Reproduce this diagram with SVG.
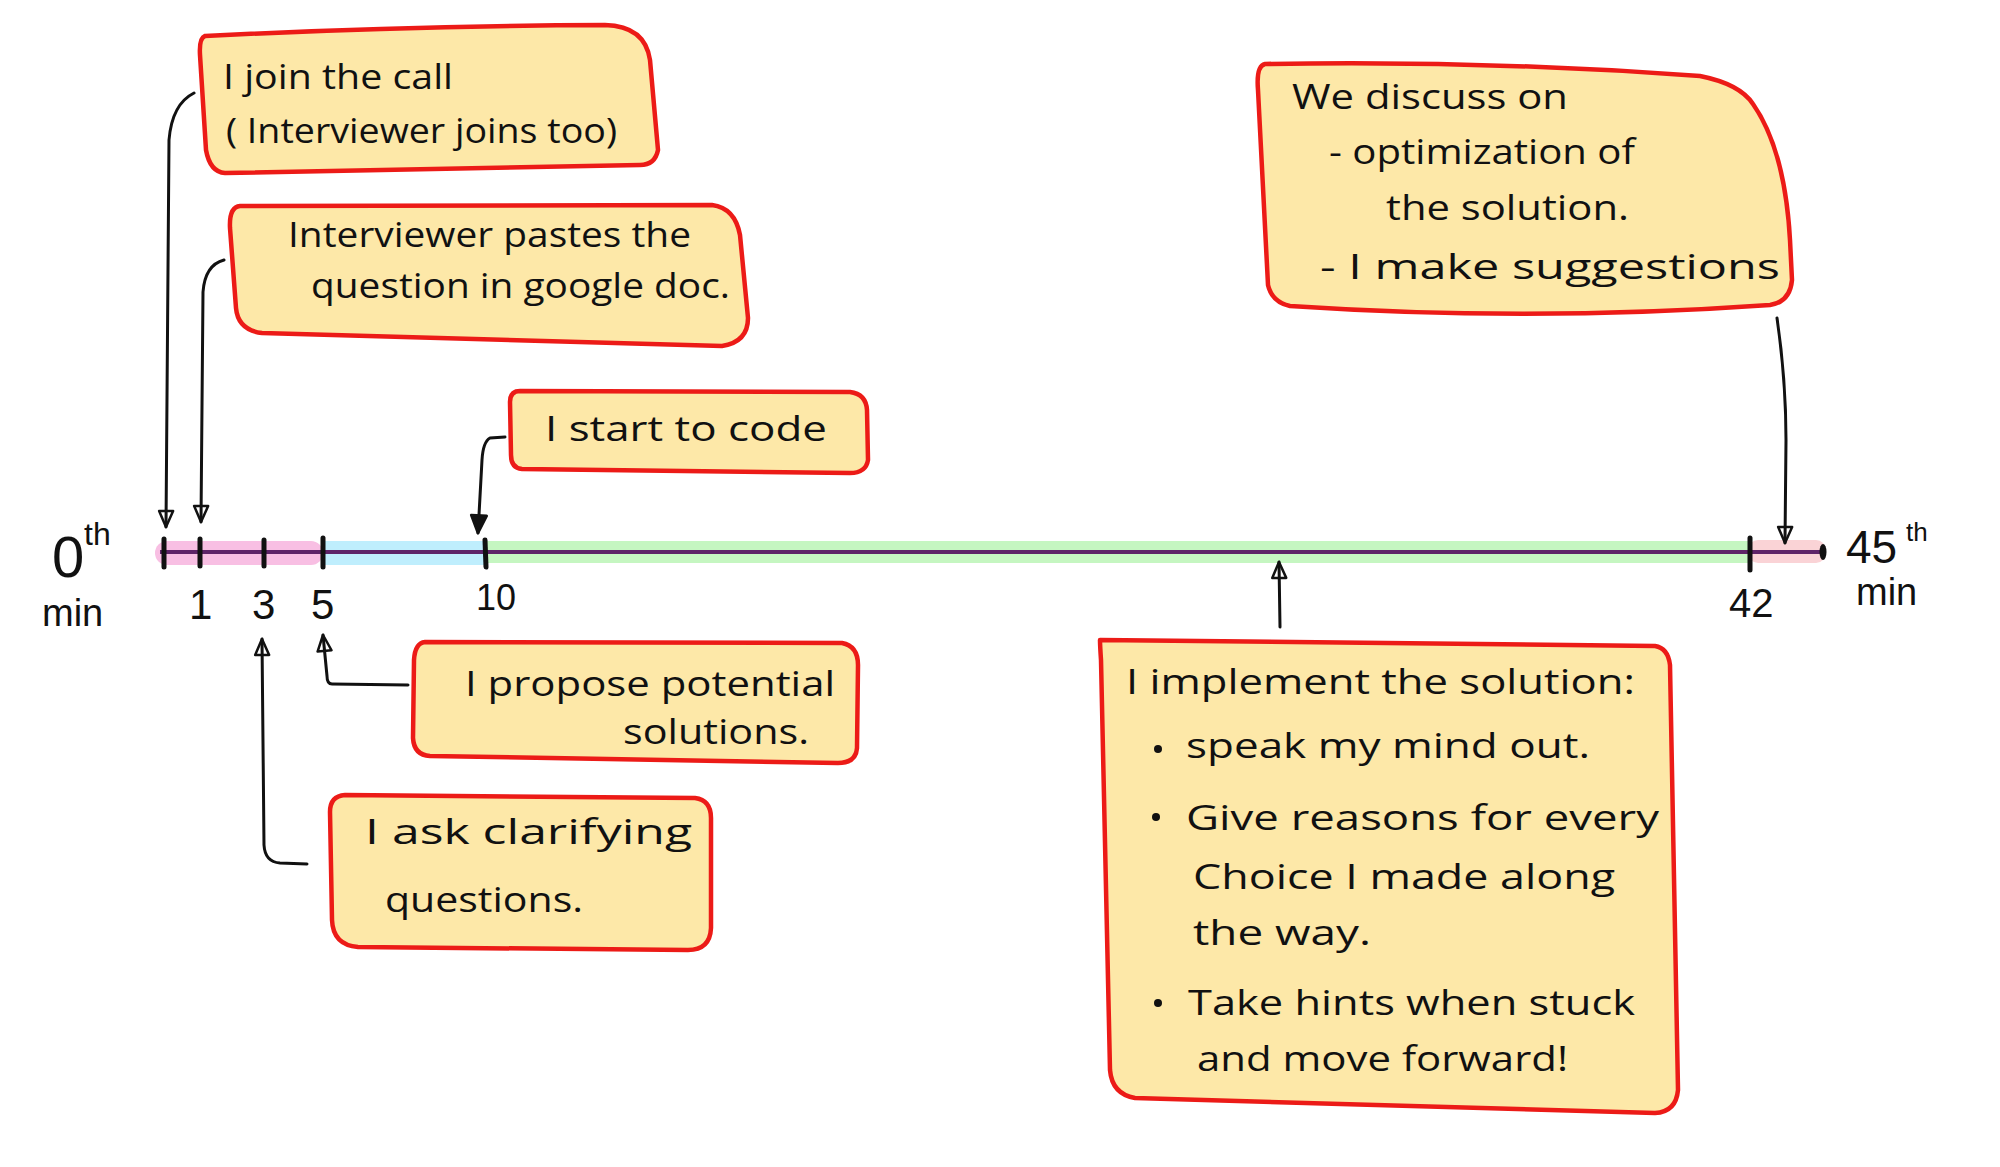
<svg xmlns="http://www.w3.org/2000/svg" width="2000" height="1167" viewBox="0 0 2000 1167">
<defs>
<style>
.box{fill:#FDE8A8;stroke:#EC1B17;stroke-width:4.5;stroke-linejoin:round}
.t{font-family:"Open Sans","Liberation Sans",sans-serif;font-size:34px;font-weight:500;fill:#111}
.n{font-family:"Liberation Sans","Open Sans",sans-serif;fill:#111}
.c{fill:none;stroke:#111;stroke-width:3;stroke-linecap:round;stroke-linejoin:round}
.tick{stroke:#111;stroke-width:5;stroke-linecap:round}
</style>
<marker id="open" viewBox="0 0 20 20" refX="18" refY="10" markerWidth="20" markerHeight="20" markerUnits="userSpaceOnUse" orient="auto">
<path d="M2,3 L18,10 L2,17 Z" fill="none" stroke="#111" stroke-width="2.5" stroke-linejoin="round"/>
</marker>
<marker id="solid" viewBox="0 0 20 20" refX="18" refY="10" markerWidth="22" markerHeight="22" markerUnits="userSpaceOnUse" orient="auto">
<path d="M2,3 L18,10 L2,17 Z" fill="#111" stroke="#111" stroke-width="2.5" stroke-linejoin="round"/>
</marker>
</defs>
<rect width="2000" height="1167" fill="#fff"/>

<g id="timeline">
<rect x="155" y="541" width="168" height="24" rx="12" fill="#F8BFE3"/>
<rect x="321" y="541" width="166" height="24" fill="#BFEEFD"/>
<rect x="485" y="541" width="1265" height="22" fill="#C5F6C1"/>
<rect x="1748" y="540" width="78" height="23" rx="10" fill="#FAD3D6"/>
<line x1="160" y1="552" x2="1823" y2="552" stroke="#5E2468" stroke-width="4"/>
<line class="tick" x1="164" y1="539" x2="164" y2="567"/>
<line class="tick" x1="200" y1="539" x2="200" y2="566"/>
<line class="tick" x1="264" y1="540" x2="264" y2="566"/>
<line class="tick" x1="323" y1="538" x2="323" y2="567"/>
<line class="tick" x1="485" y1="540" x2="486" y2="567"/>
<line class="tick" x1="1750" y1="538" x2="1750" y2="570"/>
<ellipse cx="1823" cy="552" rx="3.5" ry="8" fill="#111"/>
<text class="n" x="52" y="577" style="font-size:58px">0</text>
<text class="n" x="84" y="545" style="font-size:32px">th</text>
<text class="n" x="42" y="626" style="font-size:38px">min</text>
<text class="n" x="189" y="619" style="font-size:42px">1</text>
<text class="n" x="252" y="619" style="font-size:42px">3</text>
<text class="n" x="311" y="619" style="font-size:42px">5</text>
<text class="n" x="476" y="610" style="font-size:36px">10</text>
<text class="n" x="1729" y="617" style="font-size:40px">42</text>
<text class="n" x="1846" y="563" style="font-size:46px">45</text>
<text class="n" x="1906" y="541" style="font-size:26px">th</text>
<text class="n" x="1856" y="605" style="font-size:38px">min</text>
</g>

<g id="connectors">
<path class="c" d="M194,93 Q172,104 169,140 L166,527" marker-end="url(#open)"/>
<path class="c" d="M224,260 Q205,265 203,292 L201,522" marker-end="url(#open)"/>
<path class="c" d="M505,437 L490,438 Q483,442 482,460 L478,533" marker-end="url(#solid)" stroke-width="3.5"/>
<path class="c" d="M408,685 L332,684 Q327,684 327,676 L323,635" marker-end="url(#open)" stroke-width="3.5"/>
<path class="c" d="M307,864 L280,863 Q265,862 264,845 L262,639" marker-end="url(#open)" stroke-width="3.5"/>
<path class="c" d="M1280,627 L1279,562" marker-end="url(#open)"/>
<path class="c" d="M1777,318 Q1786,380 1786,440 L1785,543" marker-end="url(#open)"/>
</g>

<g id="node-join">
<path class="box" d="M205,36 Q400,26 605,25 Q645,26 650,60 L658,150 Q655,165 640,165 L225,173 Q210,172 206,150 L200,55 Q199,38 205,36 Z"/>
<text class="t" x="223" y="89" textLength="230" lengthAdjust="spacingAndGlyphs">I join the call</text>
<text class="t" x="226" y="143" textLength="391" lengthAdjust="spacingAndGlyphs">( Interviewer joins too)</text>
</g>

<g id="node-paste">
<path class="box" d="M240,206 L712,205 Q735,208 740,235 L748,318 Q748,342 722,346 L262,333 Q238,330 236,308 L230,228 Q229,207 240,206 Z"/>
<text class="t" x="288" y="247" textLength="403" lengthAdjust="spacingAndGlyphs">Interviewer pastes the</text>
<text class="t" x="311" y="298" textLength="419" lengthAdjust="spacingAndGlyphs">question in google doc.</text>
</g>

<g id="node-code">
<path class="box" d="M520,391 L850,392 Q866,394 867,410 L868,460 Q866,473 850,473 L522,469 Q511,468 511,455 L510,402 Q510,391 520,391 Z"/>
<text class="t" x="545" y="441" textLength="282" lengthAdjust="spacingAndGlyphs">I start to code</text>
</g>

<g id="node-propose">
<path class="box" d="M425,642 L842,643 Q858,646 858,665 L857,748 Q856,763 838,763 L430,756 Q414,755 413,738 L414,660 Q415,643 425,642 Z"/>
<text class="t" x="465" y="696" textLength="370" lengthAdjust="spacingAndGlyphs">I propose potential</text>
<text class="t" x="623" y="744" textLength="186" lengthAdjust="spacingAndGlyphs">solutions.</text>
</g>

<g id="node-ask">
<path class="box" d="M345,795 L695,798 Q711,800 711,818 L711,928 Q710,950 688,950 L358,947 Q333,945 332,920 L330,812 Q330,796 345,795 Z"/>
<text class="t" x="365" y="844" textLength="327" lengthAdjust="spacingAndGlyphs">I ask clarifying</text>
<text class="t" x="385" y="912" textLength="198" lengthAdjust="spacingAndGlyphs">questions.</text>
</g>

<g id="node-discuss">
<path class="box" d="M1265,64 Q1480,60 1700,76 Q1740,84 1753,104 Q1785,150 1790,240 L1792,280 Q1790,302 1770,305 Q1530,322 1290,306 Q1272,302 1268,285 L1258,90 Q1256,66 1265,64 Z"/>
<text class="t" x="1292" y="109" textLength="276" lengthAdjust="spacingAndGlyphs">We discuss on</text>
<text class="t" x="1329" y="164" textLength="306" lengthAdjust="spacingAndGlyphs">- optimization of</text>
<text class="t" x="1386" y="220" textLength="243" lengthAdjust="spacingAndGlyphs">the solution.</text>
<text class="t" x="1320" y="279" textLength="460" lengthAdjust="spacingAndGlyphs">- I make suggestions</text>
</g>

<g id="node-implement">
<path class="box" d="M1100,640 L1655,646 Q1668,648 1670,665 L1678,1090 Q1676,1112 1655,1113 L1135,1098 Q1112,1094 1110,1070 L1101,660 Q1100,645 1100,640 Z"/>
<text class="t" x="1126" y="694" textLength="509" lengthAdjust="spacingAndGlyphs">I implement the solution:</text>
<circle cx="1158" cy="749" r="4" fill="#111"/>
<text class="t" x="1186" y="758" textLength="404" lengthAdjust="spacingAndGlyphs">speak my mind out.</text>
<circle cx="1156" cy="817" r="4" fill="#111"/>
<text class="t" x="1186" y="830" textLength="473" lengthAdjust="spacingAndGlyphs">Give reasons for every</text>
<text class="t" x="1193" y="889" textLength="422" lengthAdjust="spacingAndGlyphs">Choice I made along</text>
<text class="t" x="1193" y="945" textLength="178" lengthAdjust="spacingAndGlyphs">the way.</text>
<circle cx="1158" cy="1003" r="4" fill="#111"/>
<text class="t" x="1188" y="1015" textLength="447" lengthAdjust="spacingAndGlyphs">Take hints when stuck</text>
<text class="t" x="1197" y="1071" textLength="371" lengthAdjust="spacingAndGlyphs">and move forward!</text>
</g>
</svg>
